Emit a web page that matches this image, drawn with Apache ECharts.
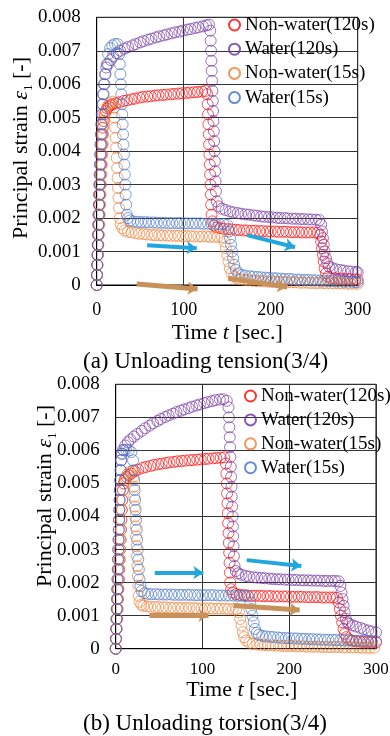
<!DOCTYPE html>
<html><head><meta charset="utf-8">
<script src="https://cdn.jsdelivr.net/npm/echarts@6/dist/echarts.min.js"></script>
<style>html,body{margin:0;padding:0;background:#fff;}#c{width:390px;height:736px;}</style>
</head><body><div id="c"></div>
<script>
// ---- categories / labels ----
const seriesNames = ['Non-water(120s)', 'Water(120s)', 'Non-water(15s)', 'Water(15s)'];
const panelTitles = ['(a) Unloading tension(3/4)', '(b) Unloading torsion(3/4)'];
const xAxisTitle = 'Time {i|t} [sec.]';
const yAxisTitle = 'Principal strain {e|ε}{s|1} [-]';

// ---- (a) Unloading tension : [time s, principal strain] ----
const aRed = [[0,0],[0.4,0.0003],[0.8,0.0006],[1.2,0.0009],[1.6,0.0012],[2,0.0015],[2.4,0.0018],[2.8,0.0021],[3.2,0.0024],[3.6,0.0027],[4,0.003],[4.5,0.0033],[5,0.0036],[5.5,0.0039],[6,0.0042],[6.5,0.0045],[7,0.0047],[8,0.0049],[9,0.0051],[10.5,0.0052],[12,0.00528],[14,0.00533],[16,0.00537],[18,0.0054],
[22,0.00543],[26,0.00546],[31,0.0055],[35,0.00552],[40,0.00555],[44,0.00557],[49,0.0056],[53,0.00562],[58,0.00563],[62,0.00564],[67,0.00566],[71,0.00567],[76,0.00568],[80,0.00569],[85,0.0057],[89,0.00571],[94,0.00572],[98,0.00573],[103,0.00574],[107,0.00575],[112,0.00576],[116,0.00577],[121,0.00578],[125,0.0058],
[127,0.0057],[127.5,0.0054],[128,0.0051],[128.4,0.0048],[128.8,0.0045],[129.2,0.0042],[129.6,0.0039],[130,0.0036],[130.4,0.0033],[130.8,0.003],[131.2,0.0027],[131.6,0.0024],[132,0.0021],[133,0.0019],[135,0.00178],[138,0.00172],
[142,0.0017],[146,0.00168],[151,0.00167],[155,0.00166],[160,0.00165],[164,0.00164],[169,0.00163],[173,0.00163],[178,0.00162],[182,0.00162],[187,0.00161],[191,0.00161],[196,0.0016],[200,0.0016],[205,0.0016],[209,0.00159],[214,0.00159],[218,0.00159],[223,0.00158],[227,0.00158],[232,0.00158],[236,0.00157],[241,0.00157],[245,0.00157],[250,0.00157],[254,0.00156],
[257,0.0015],[258,0.0013],[259,0.0011],[260,0.0009],[261,0.0007],[262,0.0005],[263.5,0.00035],[266,0.00025],
[270,0.0002],[274,0.0002],[279,0.00019],[283,0.00018],[288,0.00018],[292,0.00017],[297,0.00017],[300,0.00016]];

const aPurple = [[0,0],[0.3,0.0003],[0.6,0.0006],[0.9,0.0009],[1.2,0.0012],[1.5,0.0015],[1.8,0.0018],[2.1,0.0021],[2.4,0.0024],[2.7,0.0027],[3,0.003],[3.3,0.0033],[3.6,0.0036],[3.9,0.0039],[4.3,0.0042],[4.7,0.0045],[5.2,0.0048],[5.8,0.0051],[6.5,0.0054],[7.3,0.0057],[8.2,0.006],[9.5,0.0063],[11,0.0065],[13,0.0066],[16,0.00672],[19,0.00683],
[23,0.00693],[27,0.007],[32,0.00706],[36,0.00711],[41,0.00716],[45,0.0072],[50,0.00725],[54,0.00729],[59,0.00733],[63,0.00736],[68,0.0074],[72,0.00743],[77,0.00746],[81,0.00749],[86,0.00752],[90,0.00755],[95,0.00757],[99,0.0076],[104,0.00763],[108,0.00765],[113,0.00768],[117,0.0077],[122,0.00773],[126,0.00776],[129,0.00778],
[130.5,0.0076],[131,0.0073],[131.4,0.007],[131.8,0.0067],[132.2,0.0064],[132.6,0.0061],[133,0.0058],[133.4,0.0055],[133.8,0.0052],[134.2,0.0049],[134.6,0.0046],[135,0.0043],[135.4,0.004],[135.8,0.0037],[136.2,0.0034],[136.6,0.0031],[137,0.0028],[138,0.0025],[140,0.00235],[144,0.00228],
[148,0.00224],[153,0.0022],[157,0.00217],[162,0.00215],[166,0.00213],[171,0.00211],[175,0.0021],[180,0.00208],[184,0.00207],[189,0.00205],[193,0.00204],[198,0.00203],[202,0.00202],[207,0.00201],[211,0.002],[216,0.002],[220,0.00199],[225,0.00198],[229,0.00198],[234,0.00197],[238,0.00197],[243,0.00196],[247,0.00196],[252,0.00195],[256,0.00194],
[258,0.0018],[259,0.0016],[260,0.0014],[261,0.0012],[262,0.001],[263.5,0.0008],[265,0.00065],[267,0.00055],
[271,0.0005],[275,0.00047],[280,0.00045],[284,0.00043],[289,0.00041],[293,0.0004],[298,0.00039],[300,0.00038]];

const aOrange = [[0,0],[0.5,0.0003],[1,0.0006],[1.5,0.0009],[2,0.0012],[2.5,0.0015],[3,0.0018],[3.5,0.0021],[4,0.0024],[4.5,0.0027],[5,0.003],[5.5,0.0033],[6,0.0036],[6.5,0.0039],[7,0.0042],[7.5,0.0045],[8,0.0048],[9,0.005],[10.5,0.0052],[12.5,0.00535],[15,0.00543],[18,0.00548],
[20,0.0053],[20.6,0.005],[21.2,0.0047],[21.8,0.0044],[22.4,0.0041],[23,0.0038],[23.5,0.0035],[24,0.0032],[24.5,0.0029],[25,0.0026],[25.6,0.0023],[26.3,0.002],[27.5,0.00182],[29.5,0.0017],[32,0.00163],
[36,0.00159],[40,0.00157],[45,0.00155],[49,0.00153],[54,0.00152],[58,0.00151],[63,0.0015],[67,0.00149],[72,0.00149],[76,0.00148],[81,0.00148],[85,0.00147],[90,0.00147],[94,0.00147],[99,0.00146],[103,0.00146],[108,0.00146],[112,0.00145],[117,0.00145],[121,0.00145],[126,0.00145],[130,0.00144],[135,0.00144],[139,0.00144],[144,0.00143],
[147,0.0013],[148.5,0.0011],[150,0.0009],[151.5,0.0007],[153,0.0005],[155,0.00035],[158,0.00025],[161,0.0002],
[165,0.00017],[170,0.00015],[174,0.00014],[179,0.00013],[183,0.00012],[188,0.00012],[192,0.00011],[197,0.0001],[201,0.0001],[206,0.0001],[210,0.00009],[215,0.00009],[219,0.00008],[224,0.00008],[228,0.00008],[233,0.00007],[237,0.00007],[242,0.00007],[246,0.00006],[251,0.00006],[255,0.00006],[260,0.00006],[264,0.00005],[269,0.00005],[273,0.00005],[278,0.00005],[282,0.00005],[287,0.00004],[291,0.00004],[296,0.00004],[300,0.00004]];

const aBlue = [[0,0],[0.3,0.0003],[0.6,0.0006],[0.9,0.0009],[1.2,0.0012],[1.5,0.0015],[1.8,0.0018],[2.2,0.0021],[2.6,0.0024],[3,0.0027],[3.4,0.003],[3.8,0.0033],[4.2,0.0036],[4.6,0.0039],[5,0.0042],[5.5,0.0045],[6,0.0048],[6.6,0.0051],[7.2,0.0054],[8,0.0057],[9,0.006],[10.2,0.0063],[11.6,0.0066],[13.2,0.0069],[15.5,0.00708],[18,0.00716],[21,0.0072],[24,0.0072],
[26,0.0069],[26.6,0.0066],[27.2,0.0063],[27.8,0.006],[28.3,0.0057],[28.8,0.0054],[29.3,0.0051],[29.8,0.0048],[30.3,0.0045],[30.8,0.0042],[31.3,0.0039],[31.8,0.0036],[32.3,0.0033],[32.8,0.003],[33.3,0.0027],[33.9,0.0024],[34.6,0.0021],[36,0.002],[38.5,0.00193],
[42,0.0019],[47,0.00189],[51,0.00188],[56,0.00188],[60,0.00187],[65,0.00187],[69,0.00186],[74,0.00186],[78,0.00186],[83,0.00185],[87,0.00185],[92,0.00185],[96,0.00185],[101,0.00184],[105,0.00184],[110,0.00184],[114,0.00184],[119,0.00184],[123,0.00183],[128,0.00183],[132,0.00183],[137,0.00183],[141,0.00182],[146,0.00182],[150,0.0018],
[152,0.0016],[153.2,0.0014],[154.4,0.0012],[155.6,0.001],[156.8,0.0008],[158,0.0006],[160,0.00045],[163,0.00035],
[167,0.0003],[171,0.00028],[176,0.00026],[180,0.00025],[185,0.00024],[189,0.00023],[194,0.00022],[198,0.00021],[203,0.0002],[207,0.0002],[212,0.00019],[216,0.00018],[221,0.00018],[225,0.00017],[230,0.00016],[234,0.00016],[239,0.00015],[243,0.00015],[248,0.00014],[252,0.00014],[257,0.00013],[261,0.00013],[266,0.00012],[270,0.00012],[275,0.00011],[279,0.00011],[284,0.0001],[288,0.0001],[293,0.0001],[297,0.00009],[300,0.00009]];

// ---- (b) Unloading torsion ----
const bRed = [[0,0],[0.5,0.0003],[1,0.0006],[1.5,0.0009],[2,0.0012],[2.5,0.0015],[3,0.0018],[3.5,0.0021],[4,0.0024],[4.5,0.0027],[5,0.003],[5.5,0.0033],[6,0.0036],[6.5,0.0039],[7,0.0042],[7.6,0.0045],[8.3,0.0048],[9.2,0.005],[10.5,0.0051],[12.5,0.0052],[15,0.00525],[18,0.0053],
[22,0.00537],[26,0.00542],[31,0.00547],[35,0.0055],[40,0.00553],[44,0.00556],[49,0.00558],[53,0.0056],[58,0.00562],[62,0.00564],[67,0.00565],[71,0.00567],[76,0.00568],[80,0.00569],[85,0.0057],[89,0.00571],[94,0.00572],[98,0.00573],[103,0.00574],[107,0.00575],[112,0.00576],[116,0.00577],[121,0.00578],[125,0.00579],
[127,0.0056],[127.5,0.0053],[128,0.005],[128.4,0.0047],[128.8,0.0044],[129.2,0.0041],[129.6,0.0038],[130,0.0035],[130.4,0.0032],[130.8,0.0029],[131.2,0.0026],[131.6,0.0023],[132,0.002],[133,0.0018],[135,0.0017],
[139,0.00165],[143,0.00163],[148,0.00162],[152,0.00161],[157,0.0016],[161,0.0016],[166,0.0016],[170,0.00159],[175,0.00159],[179,0.00159],[184,0.00158],[188,0.00158],[193,0.00158],[197,0.00158],[202,0.00157],[206,0.00157],[211,0.00157],[215,0.00157],[220,0.00156],[224,0.00156],[229,0.00156],[233,0.00156],[238,0.00155],[242,0.00155],[247,0.00155],[251,0.00155],[255,0.00154],
[257,0.0014],[258.3,0.0012],[259.6,0.001],[261,0.0008],[262.5,0.0006],[264,0.00045],[266,0.00035],[269,0.00028],
[273,0.00024],[277,0.00022],[282,0.00021],[286,0.0002],[291,0.0002],[295,0.00019],[300,0.00019]];

const bPurple = [[0,0],[0.3,0.0003],[0.6,0.0006],[0.9,0.0009],[1.2,0.0012],[1.5,0.0015],[1.8,0.0018],[2.1,0.0021],[2.4,0.0024],[2.7,0.0027],[3,0.003],[3.3,0.0033],[3.6,0.0036],[3.9,0.0039],[4.2,0.0042],[4.5,0.0045],[4.8,0.0048],[5.2,0.0051],[5.6,0.0054],[6.2,0.0057],[7,0.0059],[8.5,0.00602],[11,0.00615],[14,0.00625],[17,0.00633],
[21,0.00642],[25,0.0065],[30,0.00659],[34,0.00667],[39,0.00675],[43,0.00682],[48,0.00689],[52,0.00695],[57,0.00701],[61,0.00706],[66,0.00711],[70,0.00716],[75,0.0072],[79,0.00724],[84,0.00728],[88,0.00732],[93,0.00736],[97,0.00739],[102,0.00743],[106,0.00746],[111,0.00749],[115,0.00752],[120,0.00754],[124,0.00755],[128,0.0075],
[130,0.0073],[130.5,0.007],[131,0.0067],[131.4,0.0064],[131.8,0.0061],[132.2,0.0058],[132.6,0.0055],[133,0.0052],[133.4,0.0049],[133.8,0.0046],[134.2,0.0043],[134.6,0.004],[135,0.0037],[135.4,0.0034],[135.8,0.0031],[136.3,0.0028],[137,0.0025],[138.5,0.00235],[141,0.00228],
[145,0.00224],[150,0.0022],[154,0.00218],[159,0.00216],[163,0.00215],[168,0.00214],[172,0.00213],[177,0.00212],[181,0.00211],[186,0.0021],[190,0.0021],[195,0.00209],[199,0.00209],[204,0.00208],[208,0.00208],[213,0.00207],[217,0.00207],[222,0.00207],[226,0.00206],[231,0.00206],[235,0.00206],[240,0.00205],[244,0.00205],[249,0.00205],[253,0.00205],[257,0.00204],
[259,0.0019],[260.2,0.0017],[261.4,0.0015],[262.6,0.0013],[263.8,0.0011],[265.2,0.0009],[267,0.0008],[269,0.00075],
[273,0.00071],[277,0.00067],[282,0.00063],[286,0.00059],[291,0.00055],[295,0.00052],[300,0.00049]];

const bOrange = [[0,0],[0.5,0.0003],[1,0.0006],[1.5,0.0009],[2,0.0012],[2.5,0.0015],[3,0.0018],[3.5,0.0021],[4,0.0024],[4.5,0.0027],[5,0.003],[5.5,0.0033],[6,0.0036],[6.5,0.0039],[7,0.0042],[7.6,0.0045],[8.3,0.0048],[9.3,0.005],[11,0.00517],[13.5,0.00528],[16.5,0.00535],[19,0.00538],
[20.5,0.0052],[21,0.0049],[21.5,0.0046],[22,0.0043],[22.5,0.004],[23,0.0037],[23.5,0.0034],[24,0.0031],[24.5,0.0028],[25,0.0025],[25.5,0.0022],[26,0.0019],[26.6,0.0016],[27.5,0.00142],[29.5,0.00133],[32,0.0013],
[36,0.00128],[40,0.00127],[45,0.00126],[49,0.00126],[54,0.00125],[58,0.00125],[63,0.00124],[67,0.00124],[72,0.00124],[76,0.00123],[81,0.00123],[85,0.00123],[90,0.00123],[94,0.00122],[99,0.00122],[103,0.00122],[108,0.00122],[112,0.00121],[117,0.00121],[121,0.00121],[126,0.00121],[130,0.0012],[135,0.0012],[139,0.0012],
[142,0.0011],[143.5,0.0009],[145,0.0007],[146.5,0.0005],[148,0.00035],[150.5,0.00025],[154,0.00018],
[158,0.00015],[163,0.00013],[167,0.00012],[172,0.00011],[176,0.0001],[181,0.0001],[185,0.00009],[190,0.00009],[194,0.00008],[199,0.00008],[203,0.00008],[208,0.00007],[212,0.00007],[217,0.00007],[221,0.00006],[226,0.00006],[230,0.00006],[235,0.00006],[239,0.00005],[244,0.00005],[248,0.00005],[253,0.00005],[257,0.00005],[262,0.00004],[266,0.00004],[271,0.00004],[275,0.00004],[280,0.00004],[284,0.00003],[289,0.00003],[293,0.00003],[298,0.00003]];

const bBlue = [[0,0],[0.3,0.0003],[0.6,0.0006],[0.9,0.0009],[1.2,0.0012],[1.5,0.0015],[1.8,0.0018],[2.1,0.0021],[2.4,0.0024],[2.7,0.0027],[3,0.003],[3.3,0.0033],[3.6,0.0036],[3.9,0.0039],[4.2,0.0042],[4.5,0.0045],[4.8,0.0048],[5.2,0.0051],[5.7,0.0054],[6.3,0.0057],[7.5,0.0059],[9.5,0.006],[12,0.00602],[15,0.006],[18,0.00595],
[20,0.0057],[20.6,0.0054],[21.2,0.0051],[21.8,0.0048],[22.4,0.0045],[23,0.0042],[23.6,0.0039],[24.2,0.0036],[24.8,0.0033],[25.4,0.003],[26,0.0027],[26.7,0.0024],[27.5,0.0021],[28.5,0.0019],[30,0.00175],[33,0.00168],
[37,0.00166],[41,0.00165],[46,0.00165],[50,0.00164],[55,0.00164],[59,0.00164],[64,0.00164],[68,0.00163],[73,0.00163],[77,0.00163],[82,0.00163],[86,0.00163],[91,0.00162],[95,0.00162],[100,0.00162],[104,0.00162],[109,0.00162],[113,0.00162],[118,0.00161],[122,0.00161],[127,0.00161],[131,0.00161],[136,0.00161],[140,0.0016],[145,0.0016],[149,0.0016],[153,0.00158],
[155,0.0014],[156.3,0.0012],[157.6,0.001],[159,0.0008],[160.5,0.0006],[162.5,0.00048],[165,0.00042],
[169,0.00039],[173,0.00037],[178,0.00036],[182,0.00035],[187,0.00034],[191,0.00033],[196,0.00032],[200,0.00032],[205,0.00031],[209,0.00031],[214,0.0003],[218,0.0003],[223,0.00029],[227,0.00029],[232,0.00028],[236,0.00028],[241,0.00027],[245,0.00027],[250,0.00027],[254,0.00026],[259,0.00026],[263,0.00025],[268,0.00025],[272,0.00025],[277,0.00024],[281,0.00024],[286,0.00024],[290,0.00023],[295,0.00023],[300,0.00023]];

// ---- annotation arrows: [t0, v0, t1, v1, kind] (kind 0 = blue, 1 = tan) ----
const aArrows = [[58,0.00119,115,0.0011,0],[173,0.00149,228,0.00113,0],[46,0.00003,116,-0.00012,1],[151,0.0002,219,-0.00006,1]];
const bArrows = [[45,0.0023,101,0.0023,0],[151,0.00268,214,0.0025,0],[39,0.00101,107,0.00101,1],[136,0.00131,212,0.00117,1]];

// ---- styling ----
const FONT = "'Liberation Serif','Times New Roman',serif";
const colors = ['#ff0000', '#7030a0', '#ed7d31', '#4472c4'];
const arrowColors = ['#22a6e0', '#c8915a'];
const panelData = [[aRed, aPurple, aOrange, aBlue], [bRed, bPurple, bOrange, bBlue]];
const panelArrows = [aArrows, bArrows];

const layout = [
  { grid: {left: 96.7, top: 17.3, width: 261, height: 267.7}, xLabelSize: 18, xLabelMargin: 16, xNameGap: 37, xNamePad: [0,0,0,0],
    legend: {left: 228, top: 15, itemGap: 4.2}, title: {left: 83, top: 349}, yName: {x: 21, y: 148} },
  { grid: {left: 115.7, top: 384.3, width: 260.3, height: 264.4}, xLabelSize: 17, xLabelMargin: 12, xNameGap: 31, xNamePad: [0,8,0,0],
    legend: {left: 244, top: 386, itemGap: 3.9}, title: {left: 83, top: 711}, yName: {x: 45, y: 496} }
];

const option = {
  animation: false,
  backgroundColor: '#fff',
  title: layout.map((L, p) => ({
    text: panelTitles[p], left: L.title.left, top: L.title.top, padding: 0,
    textStyle: {fontFamily: FONT, fontSize: 23, fontWeight: 'normal', color: '#000', lineHeight: 26}
  })),
  legend: layout.map((L, p) => ({
    data: seriesNames, orient: 'vertical', left: L.legend.left, top: L.legend.top, padding: 0,
    itemWidth: 11, itemHeight: 11, itemGap: L.legend.itemGap, selectedMode: false,
    textStyle: {fontFamily: FONT, fontSize: 19, color: '#000', lineHeight: 20}
  })),
  grid: layout.map(L => Object.assign({show: true, borderColor: '#000', borderWidth: 1, containLabel: false, outerBoundsMode: 'none'}, L.grid)),
  xAxis: layout.map((L, p) => ({
    gridIndex: p, type: 'value', min: 0, max: 300, interval: 100,
    name: xAxisTitle, nameLocation: 'middle', nameGap: L.xNameGap,
    nameTextStyle: {fontFamily: FONT, fontSize: 22, color: '#000', lineHeight: 22, padding: L.xNamePad,
      rich: {i: {fontFamily: FONT, fontSize: 22, fontStyle: 'italic', color: '#000', lineHeight: 22}}},
    axisLine: {show: true, onZero: false, lineStyle: {color: '#000', width: 1}},
    axisTick: {show: false},
    splitLine: {show: true, lineStyle: {color: '#333', width: 1}},
    axisLabel: {fontFamily: FONT, fontSize: L.xLabelSize, color: '#000', margin: L.xLabelMargin}
  })),
  yAxis: layout.map((L, p) => ({
    gridIndex: p, type: 'value', min: 0, max: 0.008, interval: 0.001,
    axisLine: {show: true, lineStyle: {color: '#000', width: 1}},
    axisTick: {show: false},
    splitLine: {show: true, lineStyle: {color: '#333', width: 1}},
    axisLabel: {fontFamily: FONT, fontSize: 19, color: '#000', margin: 16,
      formatter: v => (v === 0 ? '0' : v.toFixed(3))}
  })),
  graphic: layout.map(L => ({
    type: 'text', x: L.yName.x, y: L.yName.y, rotation: Math.PI / 2, silent: true,
    style: {
      text: yAxisTitle, fontFamily: FONT, fontSize: 22, fill: '#000', align: 'center', verticalAlign: 'middle',
      rich: {
        e: {fontFamily: FONT, fontSize: 22, fontStyle: 'italic', fill: '#000'},
        s: {fontFamily: FONT, fontSize: 13, fill: '#000', verticalAlign: 'bottom', lineHeight: 28}
      }
    }
  })),
  series: []
};

panelData.forEach((sets, p) => {
  sets.forEach((d, k) => {
    option.series.push({
      type: 'scatter', name: seriesNames[k], xAxisIndex: p, yAxisIndex: p, data: d,
      symbol: 'circle', symbolSize: 11, clip: false,
      itemStyle: {color: 'rgba(0,0,0,0)', borderColor: colors[k], borderWidth: 0.85},
      emphasis: {disabled: true}
    });
  });
  option.series.push({
    type: 'lines', coordinateSystem: 'cartesian2d', xAxisIndex: p, yAxisIndex: p, clip: false, silent: true, z: 5,
    symbol: ['none', 'arrow'], symbolSize: 10,
    data: panelArrows[p].map(a => ({
      coords: [[a[0], a[1]], [a[2], a[3]]],
      lineStyle: {color: arrowColors[a[4]], width: a[4] === 0 ? 4 : 5, opacity: 1}
    }))
  });
});

const chart = echarts.init(document.getElementById('c'), null, {renderer: 'canvas'});
chart.setOption(option);
</script>
</body></html>
